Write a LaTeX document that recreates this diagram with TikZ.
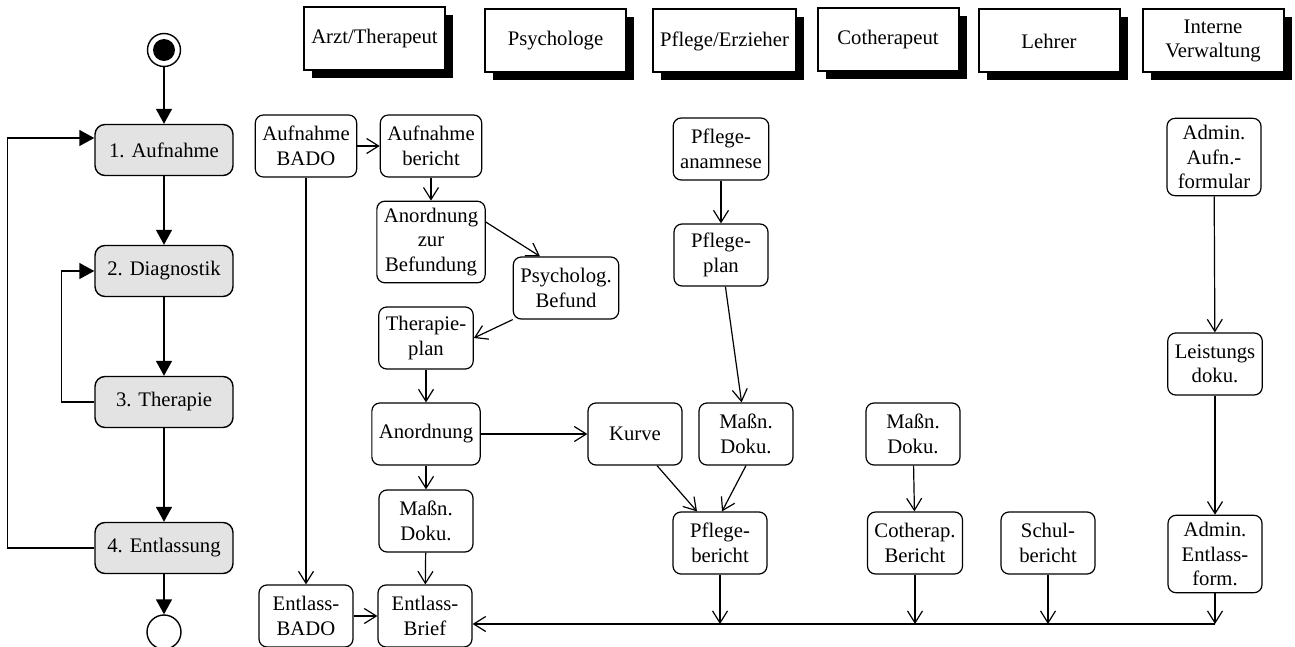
\documentclass[tikz,border=0pt]{standalone}
\usepackage{fontspec}
\setmainfont{Liberation Serif}
\usetikzlibrary{arrows.meta, shadows}

\tikzset{
  phase/.style={draw, rounded corners=5pt, fill=gray!22, line width=0.7pt,
    minimum width=69pt, minimum height=25.5pt},
  doc/.style={draw, rounded corners=4pt, line width=0.6pt, align=center,
    inner xsep=3.5pt, inner ysep=3.5pt, minimum width=47pt, minimum height=31pt},
  role/.style={draw, fill=white, line width=1pt, align=center,
    minimum width=70.5pt, minimum height=31.5pt,
    drop shadow={shadow xshift=4pt, shadow yshift=-4pt, fill=black, opacity=1}},
  uml/.style={-{Triangle[length=7.5pt,width=8pt]}, line width=0.7pt},
  flow/.style={-{Straight Barb[length=6pt,width=7.5pt]}, line width=0.6pt}
}

\begin{document}
\begin{tikzpicture}[x=0.5pt, y=-0.5pt, font=\fontsize{10.35}{12.2}\selectfont]
\useasboundingbox (0,0) rectangle (1295,647);

% phases
\node[circle, draw, line width=0.7pt, minimum size=16.5pt, inner sep=0pt] (start) at (164,50) {};
\fill (start.center) circle[radius=5.5pt];
\node[phase] (a1) at (164,150) {1. Aufnahme};
\node[phase] (a2) at (164,271) {2. Diagnostik};
\node[phase] (a3) at (164,402) {3. Therapie};
\node[phase] (a4) at (164,548) {4. Entlassung};
\node[circle, draw, line width=0.7pt, minimum size=17pt, inner sep=0pt] (stop) at (164,632) {};

\path[uml]
  (start) edge (a1)
  (a1) edge (a2)
  (a2) edge (a3)
  (a3) edge (a4)
  (a4) edge (stop);
\draw[uml] (a4.west) -- ++(-87,0) |- ([yshift=6pt]a1.west);
\draw[uml] (a3.west) -- ++(-33,0) |- (a2.west);

% roles
\node[role] (arzt) at (374.5,39) {Arzt/Therapeut};
\node[role] (psy) at (555.5,41) {Psychologe};
\node[role] (pfl) at (724.5,41) {Pflege/Erzieher};
\node[role] (coth) at (888,40) {Cotherapeut};
\node[role] (lehr) at (1049,41) {Lehrer};
\node[role] (verw) at (1213,41) {Interne\\Verwaltung};

% documents
\node[doc] (abado) at (306,146) {Aufnahme\\BADO};
\node[doc] (aber) at (431,146) {Aufnahme\\bericht};
\node[doc] (anbef) at (431,242) {Anordnung\\zur\\Befundung};
\node[doc] (psych) at (566,288) {Psycholog.\\Befund};
\node[doc] (tplan) at (426,338) {Therapie-\\plan};
\node[doc] (anord) at (426,434) {Anordnung};
\node[doc] (kurve) at (635,434) {Kurve};
\node[doc] (massA) at (426,521) {Maßn.\\Doku.};
\node[doc] (ebado) at (306,616) {Entlass-\\BADO};
\node[doc] (ebrief) at (425,616) {Entlass-\\Brief};
\node[doc] (panam) at (721,149) {Pflege-\\anamnese};
\node[doc] (pplan) at (721,255) {Pflege-\\plan};
\node[doc] (massP) at (746,434) {Maßn.\\Doku.};
\node[doc] (pber) at (720,543) {Pflege-\\bericht};
\node[doc] (massC) at (913,434) {Maßn.\\Doku.};
\node[doc] (cber) at (915,543) {Cotherap.\\Bericht};
\node[doc] (schul) at (1048,543) {Schul-\\bericht};
\node[doc] (aaufn) at (1214,157) {Admin.\\Aufn.-\\formular};
\node[doc] (leist) at (1215,364) {Leistungs\\doku.};
\node[doc] (aentl) at (1215,554) {Admin.\\Entlass-\\form.};
\coordinate (bus) at (1215,624);

\path[flow]
  (abado) edge (aber)
  (aber) edge (anbef)
  ([yshift=10pt]anbef.east) edge ([xshift=-13pt]psych.north)
  (psych.south west) edge (tplan.east)
  (tplan) edge (anord)
  (anord) edge (kurve)
  (anord) edge (massA)
  (massA) edge (ebrief)
  (abado) edge (ebado)
  (ebado) edge (ebrief)
  (panam) edge (pplan)
  (pplan) edge (massP)
  ([xshift=11pt]kurve.south) edge ([xshift=-11.5pt]pber.north)
  (massP.south) edge ([xshift=1pt]pber.north)
  (massC) edge (cber)
  (aaufn) edge (leist)
  (leist) edge (aentl);

\draw[flow] (bus) -- (bus -| ebrief.east);
\path[flow]
  (pber) edge (pber |- bus)
  (cber) edge (cber |- bus)
  (schul) edge (schul |- bus)
  (aentl) edge (bus);
\end{tikzpicture}
\end{document}
